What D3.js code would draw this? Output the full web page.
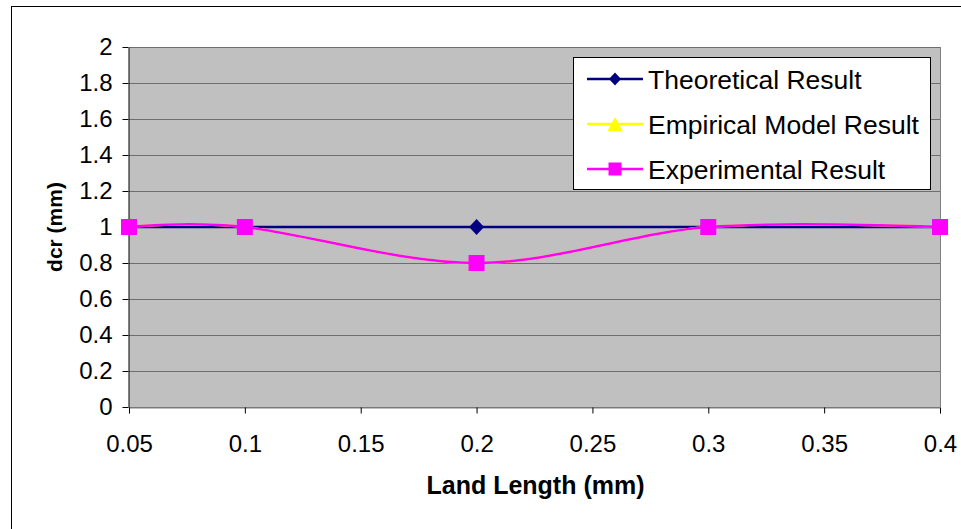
<!DOCTYPE html>
<html>
<head>
<meta charset="utf-8">
<script src="https://cdn.jsdelivr.net/npm/d3@7"></script>
<style>
  html, body { margin: 0; padding: 0; background: #fff; }
  svg { display: block; font-family: "Liberation Sans", Arial, sans-serif; }
</style>
</head>
<body>
<svg id="chart" width="961" height="529"></svg>
<script>
// Land length (mm) at which dcr was evaluated
const landLength = [0.05, 0.1, 0.2, 0.3, 0.4];
// dcr (mm) for each method
const theoretical = [1, 1, 1, 1, 1];
const empirical = [1, 1, 0.8, 1, 1];
const experimental = [1, 1, 0.8, 1, 1];
const xTicks = [0.05, 0.1, 0.15, 0.2, 0.25, 0.3, 0.35, 0.4];
const yTicks = [0, 0.2, 0.4, 0.6, 0.8, 1, 1.2, 1.4, 1.6, 1.8, 2];
const seriesNames = ["Theoretical Result", "Empirical Model Result", "Experimental Result"];

const svg = d3.select("#chart");
const plot = { left: 129, top: 47, right: 940, bottom: 407 };

const x = d3.scaleLinear().domain([0.05, 0.4]).range([plot.left, plot.right]);
const y = d3.scaleLinear().domain([0, 2]).range([plot.bottom, plot.top]);

// marker shapes: w/h are full width and height in px
function markerPath(kind, w, h) {
  const a = w / 2, b = h / 2;
  if (kind === "diamond") return `M0,${-b}L${a},0L0,${b}L${-a},0Z`;
  if (kind === "triangle") return `M0,${-b}L${a},${b}L${-a},${b}Z`;
  return `M${-a},${-b}H${a}V${b}H${-a}Z`;
}

// chart frame
svg.append("rect")
  .attr("x", 11.5).attr("y", 6.5).attr("width", 1000).attr("height", 600)
  .attr("fill", "#fff").attr("stroke", "#000").attr("stroke-width", 1);

// plot area
svg.append("rect")
  .attr("x", plot.left).attr("y", plot.top)
  .attr("width", plot.right - plot.left).attr("height", plot.bottom - plot.top)
  .attr("fill", "#C0C0C0");

// horizontal gridlines
svg.append("g").selectAll("line").data(yTicks).join("line")
  .attr("x1", plot.left).attr("x2", plot.right)
  .attr("y1", d => Math.round(y(d)) + 0.5).attr("y2", d => Math.round(y(d)) + 0.5)
  .attr("stroke", "#6e6e6e").attr("stroke-width", 1);

// plot area right edge
svg.append("line")
  .attr("x1", plot.right + 0.5).attr("x2", plot.right + 0.5)
  .attr("y1", plot.top).attr("y2", plot.bottom)
  .attr("stroke", "#808080");

// axes
const fmt = d => String(+d.toFixed(2));
const xAxis = svg.append("g")
  .attr("transform", `translate(0,${plot.bottom + 0.5})`)
  .call(d3.axisBottom(x).tickValues(xTicks).tickFormat(fmt).tickSizeInner(6).tickSizeOuter(6).tickPadding(21));
const yAxis = svg.append("g")
  .attr("transform", `translate(${plot.left - 0.5},0)`)
  .call(d3.axisLeft(y).tickValues(yTicks).tickFormat(fmt).tickSizeInner(6).tickSizeOuter(0).tickPadding(10));

[xAxis, yAxis].forEach(g => {
  g.attr("font-family", "Liberation Sans, Arial, sans-serif").attr("font-size", 24);
  g.selectAll("text").attr("fill", "#000");
  g.selectAll("line").attr("stroke", "#000");
});
xAxis.select(".domain").attr("stroke", "#808080");
yAxis.select(".domain").attr("stroke", "#000");

// axis titles
svg.append("text")
  .attr("x", (plot.left + plot.right) / 2 + 1).attr("y", 494)
  .attr("text-anchor", "middle").attr("font-weight", "bold").attr("font-size", 25)
  .text("Land Length (mm)");
svg.append("text")
  .attr("transform", `translate(62,${(plot.top + plot.bottom) / 2}) rotate(-90)`)
  .attr("text-anchor", "middle").attr("font-weight", "bold").attr("font-size", 21)
  .text("dcr (mm)");

// series
const series = [
  { name: seriesNames[0], values: theoretical, color: "#000080", marker: "diamond", w: 15, h: 16, lw: 12, lh: 13 },
  { name: seriesNames[1], values: empirical, color: "#FFFF00", marker: "triangle", w: 15, h: 14, lw: 15, lh: 14 },
  { name: seriesNames[2], values: experimental, color: "#FF00FF", marker: "square", w: 16, h: 16, lw: 13, lh: 13 }
];

const line = d3.line()
  .x(d => x(d[0])).y(d => y(d[1]))
  .curve(d3.curveCardinal.tension(0));

const marks = svg.append("g");
series.forEach(s => {
  const pts = landLength.map((v, i) => [v, s.values[i]]);
  marks.append("path")
    .attr("d", line(pts))
    .attr("fill", "none").attr("stroke", s.color).attr("stroke-width", 2.5);
  marks.append("g").selectAll("path").data(pts).join("path")
    .attr("transform", d => `translate(${x(d[0])},${y(d[1])})`)
    .attr("d", markerPath(s.marker, s.w, s.h))
    .attr("fill", s.color);
});

// legend
const legend = svg.append("g");
legend.append("rect")
  .attr("x", 573.5).attr("y", 57.5).attr("width", 357).attr("height", 132)
  .attr("fill", "#fff").attr("stroke", "#000");
series.forEach((s, i) => {
  const cy = 79 + i * 45;
  const g = legend.append("g").attr("transform", `translate(0,${cy})`);
  g.append("line").attr("x1", 587).attr("x2", 643).attr("y1", 0).attr("y2", 0)
    .attr("stroke", s.color).attr("stroke-width", 2.5);
  g.append("path").attr("transform", "translate(615,0)")
    .attr("d", markerPath(s.marker, s.lw, s.lh))
    .attr("fill", s.color);
  g.append("text").attr("x", 648).attr("y", 0).attr("dy", "0.36em")
    .attr("font-size", 26.5).attr("fill", "#000").text(s.name);
});
</script>
</body>
</html>
